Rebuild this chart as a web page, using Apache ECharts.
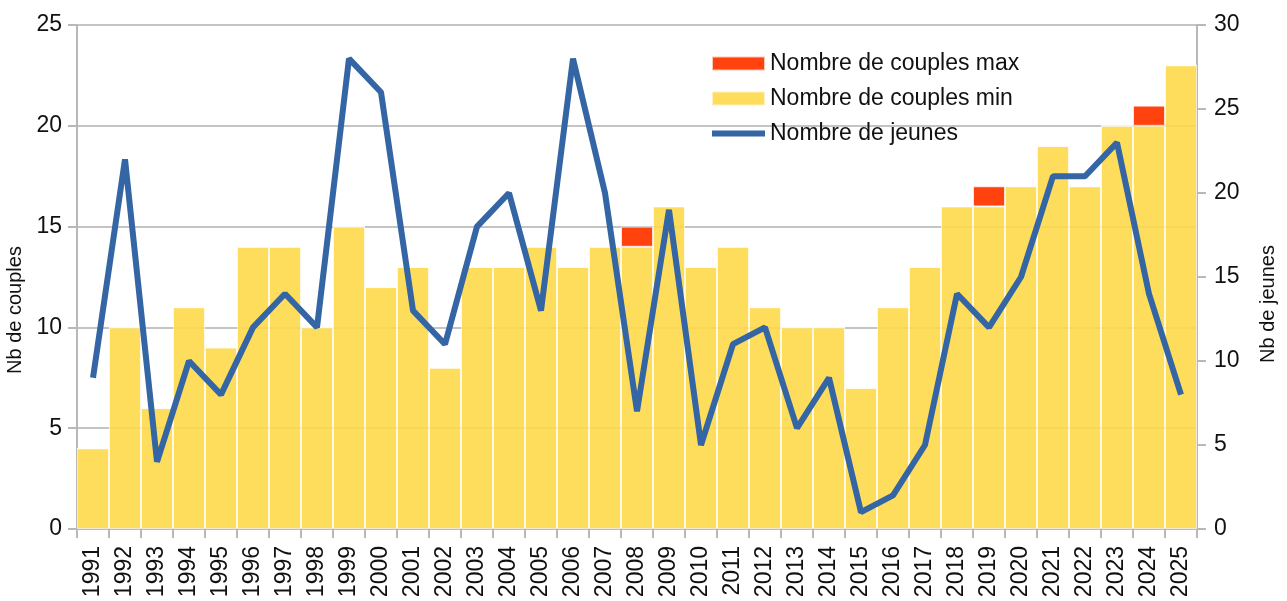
<!DOCTYPE html>
<html>
<head>
<meta charset="utf-8">
<script src="https://cdn.jsdelivr.net/npm/echarts@6/dist/echarts.min.js"></script>
<style>
html,body{margin:0;padding:0;background:#fff;}
#chart{width:1287px;height:601px;}
</style>
</head>
<body>
<div id="chart"></div>
<script>
// années
var annees = ["1991","1992","1993","1994","1995","1996","1997","1998","1999","2000",
  "2001","2002","2003","2004","2005","2006","2007","2008","2009","2010",
  "2011","2012","2013","2014","2015","2016","2017","2018","2019","2020",
  "2021","2022","2023","2024","2025"];
// nombre de couples min
var couplesMin = [4,10,6,11,9,14,14,10,15,12,13,8,13,13,14,13,14,14,16,13,
  14,11,10,10,7,11,13,16,16,17,19,17,20,20,23];
// nombre de couples max
var couplesMax = [4,10,6,11,9,14,14,10,15,12,13,8,13,13,14,13,14,15,16,13,
  14,11,10,10,7,11,13,16,17,17,19,17,20,21,23];
// nombre de jeunes
var jeunes = [9,22,4,10,8,12,14,12,28,26,13,11,18,20,13,28,20,7,19,5,
  11,12,6,9,1,2,5,14,12,15,21,21,23,14,8];

// écart max - min, empilé au dessus du min
var ecart = [];
for (var i = 0; i < couplesMin.length; i++) {
  ecart.push(couplesMax[i] - couplesMin[i]);
}

var police = "Liberation Sans";
var chart = echarts.init(document.getElementById("chart"));
var option = {
  animation: false,
  textStyle: {fontFamily: police},
  grid: {left: 77, right: 90, top: 25, bottom: 72, outerBoundsMode: 'none', containLabel: false},
  legend: {
    orient: 'vertical',
    left: 711,
    top: 52,
    padding: 0,
    itemWidth: 53,
    itemHeight: 14,
    itemGap: 12,
    textStyle: {fontSize: 23, color: '#111', lineHeight: 22, fontFamily: police},
    data: [
      {name: 'Nombre de couples max', icon: 'rect'},
      {name: 'Nombre de couples min', icon: 'rect'},
      {name: 'Nombre de jeunes', icon: 'path://M0,0 L53,0 L53,6 L0,6 Z'}
    ]
  },
  xAxis: {
    type: 'category',
    data: annees,
    boundaryGap: true,
    axisLine: {lineStyle: {color: '#b8b8b8', width: 2}},
    axisTick: {show: true, length: 9, lineStyle: {color: '#b8b8b8', width: 2}},
    axisLabel: {rotate: 90, fontSize: 23, color: '#111', margin: 17, fontFamily: police},
    splitLine: {show: false}
  },
  yAxis: [
    {
      type: 'value',
      min: 0, max: 25, interval: 5,
      name: 'Nb de couples',
      nameLocation: 'middle',
      nameRotate: 90,
      nameGap: 44,
      nameTextStyle: {fontSize: 20, color: '#111', padding: [0, 66, 0, 0], fontFamily: police},
      axisLine: {show: true, lineStyle: {color: '#b8b8b8', width: 2}},
      axisTick: {show: true, length: 9, lineStyle: {color: '#b8b8b8', width: 2}},
      axisLabel: {fontSize: 23, color: '#111', margin: 15, fontFamily: police},
      splitLine: {show: true, lineStyle: {color: '#c4c4c4', width: 2}}
    },
    {
      type: 'value',
      min: 0, max: 30, interval: 5,
      name: 'Nb de jeunes',
      nameLocation: 'middle',
      nameRotate: 90,
      nameGap: 61,
      nameTextStyle: {fontSize: 20, color: '#111', padding: [0, 54, 0, 0], fontFamily: police},
      axisLine: {show: true, lineStyle: {color: '#b8b8b8', width: 2}},
      axisTick: {show: true, length: 9, lineStyle: {color: '#b8b8b8', width: 2}},
      axisLabel: {fontSize: 23, color: '#111', margin: 17, fontFamily: police},
      splitLine: {show: false}
    }
  ],
  series: [
    {
      name: 'Nombre de couples min',
      type: 'bar',
      stack: 'couples',
      data: couplesMin,
      barCategoryGap: 0,
      barGap: 0,
      itemStyle: {color: '#ffd94a', opacity: 0.9, borderColor: 'rgba(255,255,255,0.7)', borderWidth: 1}
    },
    {
      name: 'Nombre de couples max',
      type: 'bar',
      stack: 'couples',
      data: ecart,
      barCategoryGap: 0,
      barGap: 0,
      itemStyle: {color: '#ff420e', borderColor: 'rgba(255,255,255,0.7)', borderWidth: 1}
    },
    {
      name: 'Nombre de jeunes',
      type: 'line',
      yAxisIndex: 1,
      data: jeunes,
      symbol: 'none',
      lineStyle: {color: '#3465a4', width: 6},
      itemStyle: {color: '#3465a4'},
      z: 5
    }
  ]
};
chart.setOption(option);
</script>
</body>
</html>
